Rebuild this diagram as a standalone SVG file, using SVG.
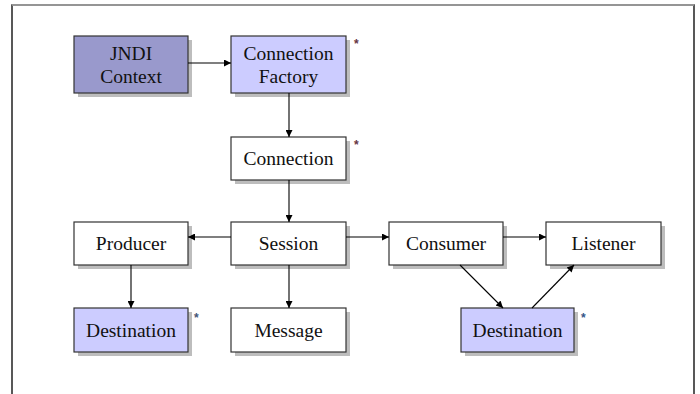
<svg xmlns="http://www.w3.org/2000/svg" width="700" height="394" viewBox="0 0 700 394">
<defs>
<marker id="ah" viewBox="0 0 10 10" refX="10" refY="5" markerWidth="9" markerHeight="7" markerUnits="userSpaceOnUse" orient="auto">
<path d="M0,0 L10,5 L0,10 z" fill="#000"/>
</marker>
</defs>
<style>
.sh{fill:#bdbdbd}
.box{stroke:#333;stroke-width:1.2}
.w{fill:#fff}
.l{fill:#ccccff}
.d{fill:#9999cc}
.t{font-family:"Liberation Serif","Times New Roman",serif;font-size:19.5px;fill:#111;text-anchor:middle}
.st{font-family:"Liberation Sans",Arial,sans-serif;font-size:12px;font-weight:bold}
.c{stroke:#000;stroke-width:1.1;fill:none;marker-end:url(#ah)}
</style>
<rect x="0" y="0" width="700" height="394" fill="#fff"/>
<path d="M12,394 V5 H694 V394" fill="none" stroke="#222" stroke-width="1.5"/>
<line x1="12" y1="5" x2="694" y2="5" stroke="#aaa" stroke-width="1.5"/>

<g id="jndi">
<rect class="sh" x="78" y="40" width="114" height="57"/>
<rect class="box d" x="74" y="36" width="114" height="57"/>
<text class="t" x="131" y="60">JNDI</text>
<text class="t" x="131" y="83">Context</text>
</g>
<g id="factory">
<rect class="sh" x="235" y="40" width="115" height="57"/>
<rect class="box l" x="231" y="36" width="115" height="57"/>
<text class="t" x="288.5" y="60">Connection</text>
<text class="t" x="288.5" y="83">Factory</text>
<text class="st" x="354" y="48" fill="#663344">*</text>
</g>
<g id="connection">
<rect class="sh" x="235" y="141" width="115" height="43"/>
<rect class="box w" x="231" y="137" width="115" height="43"/>
<text class="t" x="288.5" y="165">Connection</text>
<text class="st" x="354" y="149" fill="#663344">*</text>
</g>
<g id="producer">
<rect class="sh" x="78" y="226" width="114" height="43"/>
<rect class="box w" x="74" y="222" width="114" height="43"/>
<text class="t" x="131" y="250">Producer</text>
</g>
<g id="session">
<rect class="sh" x="235" y="226" width="115" height="43"/>
<rect class="box w" x="231" y="222" width="115" height="43"/>
<text class="t" x="288.5" y="250">Session</text>
</g>
<g id="consumer">
<rect class="sh" x="393" y="226" width="114" height="43"/>
<rect class="box w" x="389" y="222" width="114" height="43"/>
<text class="t" x="446" y="250">Consumer</text>
</g>
<g id="listener">
<rect class="sh" x="550" y="226" width="115" height="43"/>
<rect class="box w" x="546" y="222" width="115" height="43"/>
<text class="t" x="603.5" y="250">Listener</text>
</g>
<g id="destination1">
<rect class="sh" x="78" y="312" width="114" height="44"/>
<rect class="box l" x="74" y="308" width="114" height="44"/>
<text class="t" x="131" y="337">Destination</text>
<text class="st" x="194" y="322" fill="#445577">*</text>
</g>
<g id="message">
<rect class="sh" x="235" y="312" width="115" height="44"/>
<rect class="box w" x="231" y="308" width="115" height="44"/>
<text class="t" x="288.5" y="337">Message</text>
</g>
<g id="destination2">
<rect class="sh" x="465" y="312" width="113" height="44"/>
<rect class="box l" x="461" y="308" width="113" height="44"/>
<text class="t" x="517.5" y="337">Destination</text>
<text class="st" x="581" y="322" fill="#335588">*</text>
</g>

<g id="connectors">
<line class="c" x1="188" y1="63" x2="231" y2="63"/>
<line class="c" x1="289" y1="93" x2="289" y2="137"/>
<line class="c" x1="289" y1="180" x2="289" y2="222"/>
<line class="c" x1="231" y1="237" x2="188" y2="237"/>
<line class="c" x1="346" y1="237" x2="389" y2="237"/>
<line class="c" x1="503" y1="237" x2="546" y2="237"/>
<line class="c" x1="131" y1="265" x2="131" y2="308"/>
<line class="c" x1="289" y1="265" x2="289" y2="308"/>
<line class="c" x1="460" y1="265" x2="503" y2="308"/>
<line class="c" x1="532" y1="308" x2="574" y2="265"/>
</g>
</svg>
